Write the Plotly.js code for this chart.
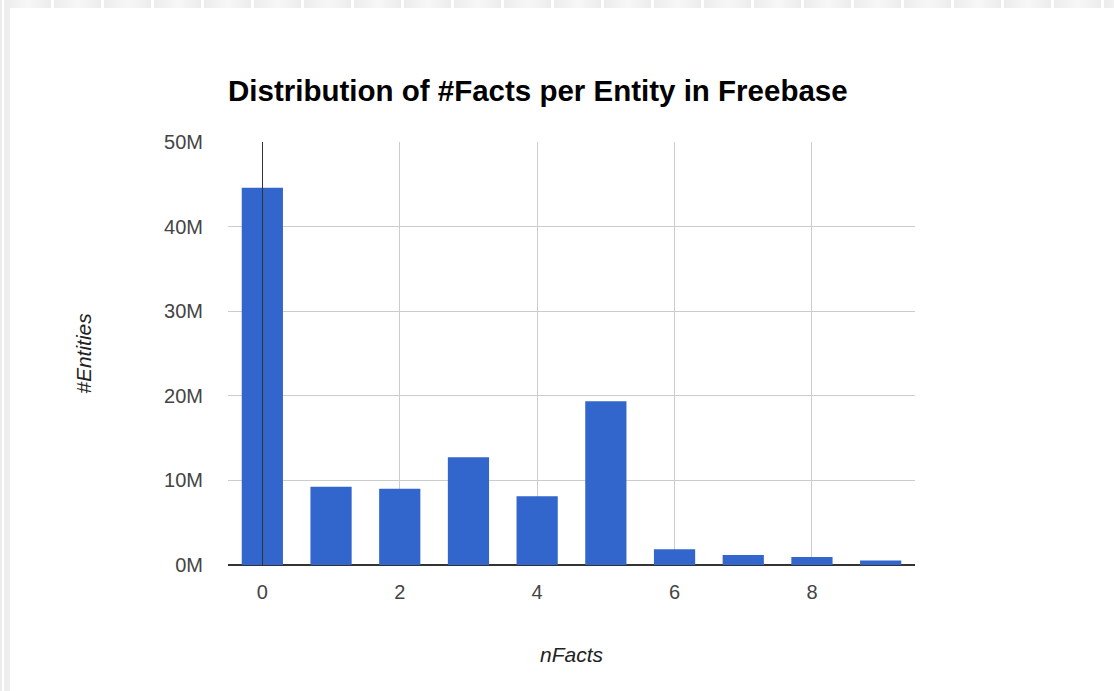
<!DOCTYPE html>
<html>
<head>
<meta charset="utf-8">
<script src="https://cdn.plot.ly/plotly-3.0.1.min.js"></script>
<style>
  html, body { margin: 0; padding: 0; background: #ffffff; }
  #chart { position: absolute; left: 0; top: 0; width: 1114px; height: 691px; }
  #topband { position: absolute; left: 0; top: 0; width: 1114px; height: 8px; z-index: 5;
    background: repeating-linear-gradient(90deg, #ffffff 0px, #ffffff 2px, #ececec 2px, #f7f7f7 26px, #ececec 49px, #ffffff 49px, #ffffff 50px);
    background-position: 2px 0; }
  #leftband1 { position: absolute; left: 0; top: 0; width: 2px; height: 691px; background: #ececec; z-index: 6; }
  #leftband2 { position: absolute; left: 4px; top: 0; width: 6px; height: 691px; background: #eeeeee; z-index: 6; }
</style>
</head>
<body>
<div id="chart"></div>
<div id="topband"></div>
<div id="leftband1"></div>
<div id="leftband2"></div>
<script>
const nFacts = [0, 1, 2, 3, 4, 5, 6, 7, 8, 9];
const entities = [44.6e6, 9.26e6, 9.0e6, 12.75e6, 8.12e6, 19.35e6, 1.85e6, 1.18e6, 0.95e6, 0.52e6];
const yTickVals = [0, 10e6, 20e6, 30e6, 40e6, 50e6];
const yTickText = ['0M', '10M', '20M', '30M', '40M', '50M'];
const xTickVals = [0, 2, 4, 6, 8];
const xTickText = ['0', '2', '4', '6', '8'];
const chartTitle = 'Distribution of #Facts per Entity in Freebase';
const xTitle = 'nFacts';
const yTitle = '#Entities';

const trace = {
  type: 'bar',
  x: nFacts,
  y: entities,
  marker: { color: '#3366cc', line: { width: 0 } },
  hoverinfo: 'x+y'
};

const layout = {
  width: 1114,
  height: 691,
  paper_bgcolor: '#ffffff',
  plot_bgcolor: '#ffffff',
  margin: { l: 227.6, r: 198.9, t: 141.7, b: 125.7, pad: 0 },
  bargap: 0.4,
  showlegend: false,
  font: { family: 'Arial, "Liberation Sans", sans-serif', color: '#444444', size: 20 },
  title: {
    text: '<b>' + chartTitle + '</b>',
    x: 0, xref: 'paper', xanchor: 'left',
    y: 1 - 91 / 691, yref: 'container', yanchor: 'middle',
    font: { family: 'Arial, "Liberation Sans", sans-serif', size: 29.5, color: '#000000' }
  },
  xaxis: {
    range: [-0.5, 9.5],
    tickmode: 'array',
    tickvals: xTickVals,
    ticktext: xTickText,
    showgrid: true,
    gridcolor: '#cccccc',
    gridwidth: 1,
    zeroline: true,
    zerolinecolor: '#333333',
    zerolinewidth: 1,
    zerolinelayer: 'above traces',
    showline: false,
    ticks: '',
    ticklabelstandoff: 13,
    tickfont: { size: 20, color: '#444444' },
    title: { text: '<i>' + xTitle + '</i>', standoff: 45, font: { size: 21, color: '#222222' } }
  },
  yaxis: {
    range: [0, 50e6],
    tickmode: 'array',
    tickvals: yTickVals,
    ticktext: yTickText,
    showgrid: true,
    gridcolor: '#cccccc',
    gridwidth: 1,
    zeroline: true,
    zerolinecolor: '#333333',
    zerolinewidth: 1.5,
    showline: false,
    ticks: '',
    ticklabelstandoff: 24,
    tickfont: { size: 20, color: '#444444' },
    title: { text: '<i>' + yTitle + '</i>', standoff: 66, font: { size: 21, color: '#222222' } }
  }
};

Plotly.newPlot('chart', [trace], layout, { staticPlot: true, displayModeBar: false });
</script>
</body>
</html>
